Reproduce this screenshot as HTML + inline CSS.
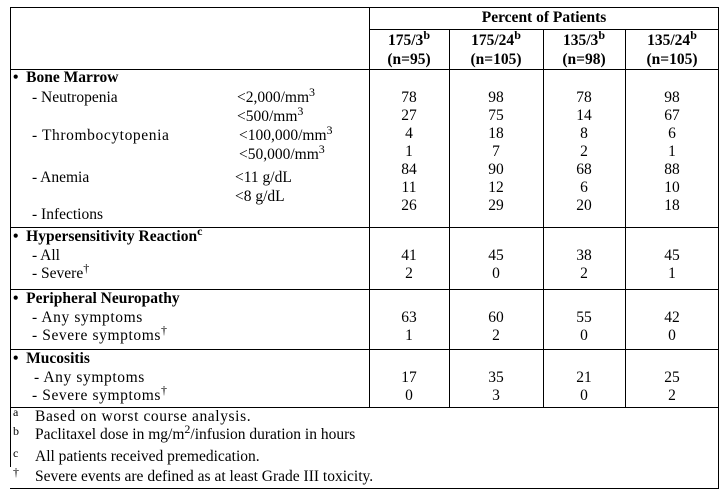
<!DOCTYPE html>
<html><head><meta charset="utf-8"><style>
body{margin:0;width:728px;height:496px;background:#fff;position:relative;font-family:"Liberation Serif",serif;font-size:15.5px;color:#000;overflow:hidden}
.l{position:absolute;background:#000}
.t{position:absolute;white-space:nowrap;line-height:18px}
.c{position:absolute;text-align:center;line-height:18px}
.w{letter-spacing:0.6px}
b{font-weight:bold}
sup{font-size:12px;line-height:0;vertical-align:6px}
</style></head><body>
<div class="l" style="left:10px;top:7px;width:709px;height:1px"></div>
<div class="l" style="left:10px;top:7px;width:1px;height:401px"></div>
<div class="l" style="left:718px;top:7px;width:1px;height:482px"></div>
<div class="l" style="left:369px;top:7px;width:1px;height:401px"></div>
<div class="l" style="left:449px;top:29px;width:1px;height:379px"></div>
<div class="l" style="left:543px;top:29px;width:1px;height:379px"></div>
<div class="l" style="left:625px;top:29px;width:1px;height:379px"></div>
<div class="l" style="left:369px;top:29px;width:350px;height:1px"></div>
<div class="l" style="left:10px;top:69px;width:709px;height:1px"></div>
<div class="l" style="left:10px;top:227px;width:709px;height:1px"></div>
<div class="l" style="left:10px;top:289px;width:709px;height:1px"></div>
<div class="l" style="left:10px;top:349px;width:709px;height:1px"></div>
<div class="l" style="left:10px;top:407px;width:709px;height:1px"></div>
<div class="l" style="left:10px;top:488px;width:709px;height:1px"></div>
<div class="l" style="left:10px;top:407px;width:1px;height:60px"></div>

<div class="c" style="left:369px;width:350px;top:9px"><b>Percent of Patients</b></div>
<div class="c" style="left:369px;width:80px;top:31px;line-height:19px"><b>175/3<sup>b</sup><br>(n=95)</b></div>
<div class="c" style="left:449px;width:94px;top:31px;line-height:19px"><b>175/24<sup>b</sup><br>(n=105)</b></div>
<div class="c" style="left:543px;width:82px;top:31px;line-height:19px"><b>135/3<sup>b</sup><br>(n=98)</b></div>
<div class="c" style="left:625px;width:94px;top:31px;line-height:19px"><b>135/24<sup>b</sup><br>(n=105)</b></div>

<div class="t" style="left:13px;top:69px"><b>•&nbsp;&nbsp;Bone Marrow</b></div>
<div class="t" style="left:32px;top:89px">- Neutropenia</div>
<div class="t" style="left:237px;top:89px">&lt;2,000/mm<sup>3</sup></div>
<div class="t" style="left:237px;top:108px">&lt;500/mm<sup>3</sup></div>
<div class="t w" style="left:32px;top:127px">- Thrombocytopenia</div>
<div class="t" style="left:239px;top:127px">&lt;100,000/mm<sup>3</sup></div>
<div class="t" style="left:239px;top:146px">&lt;50,000/mm<sup>3</sup></div>
<div class="t" style="left:32px;top:169px">- Anemia</div>
<div class="t" style="left:235px;top:169px">&lt;11 g/dL</div>
<div class="t" style="left:235px;top:188px">&lt;8 g/dL</div>
<div class="t" style="left:32px;top:206px">- Infections</div>

<div class="t" style="left:13px;top:228px"><b>•&nbsp;&nbsp;Hypersensitivity Reaction<sup>c</sup></b></div>
<div class="t" style="left:32px;top:247px">- All</div>
<div class="t" style="left:32px;top:265px">- Severe<sup>†</sup></div>
<div class="t" style="left:13px;top:290px"><b>•&nbsp;&nbsp;Peripheral Neuropathy</b></div>
<div class="t w" style="left:32px;top:309px">- Any symptoms</div>
<div class="t w" style="left:32px;top:327px">- Severe symptoms<sup>†</sup></div>
<div class="t" style="left:13px;top:350px"><b>•&nbsp;&nbsp;Mucositis</b></div>
<div class="t w" style="left:34px;top:369px">- Any symptoms</div>
<div class="t w" style="left:32px;top:387px">- Severe symptoms<sup>†</sup></div>

<div class="c" style="left:369px;width:80px;top:89px">78<br>27<br>4<br>1<br>84<br>11<br>26</div>
<div class="c" style="left:449px;width:94px;top:89px">98<br>75<br>18<br>7<br>90<br>12<br>29</div>
<div class="c" style="left:543px;width:82px;top:89px">78<br>14<br>8<br>2<br>68<br>6<br>20</div>
<div class="c" style="left:625px;width:94px;top:89px">98<br>67<br>6<br>1<br>88<br>10<br>18</div>

<div class="c" style="left:369px;width:80px;top:247px">41<br>2</div>
<div class="c" style="left:449px;width:94px;top:247px">45<br>0</div>
<div class="c" style="left:543px;width:82px;top:247px">38<br>2</div>
<div class="c" style="left:625px;width:94px;top:247px">45<br>1</div>

<div class="c" style="left:369px;width:80px;top:309px">63<br>1</div>
<div class="c" style="left:449px;width:94px;top:309px">60<br>2</div>
<div class="c" style="left:543px;width:82px;top:309px">55<br>0</div>
<div class="c" style="left:625px;width:94px;top:309px">42<br>0</div>

<div class="c" style="left:369px;width:80px;top:369px">17<br>0</div>
<div class="c" style="left:449px;width:94px;top:369px">35<br>3</div>
<div class="c" style="left:543px;width:82px;top:369px">21<br>0</div>
<div class="c" style="left:625px;width:94px;top:369px">25<br>2</div>

<div class="t" style="left:13px;top:403px;font-size:12px">a</div>
<div class="t w" style="left:35px;top:408px">Based on worst course analysis.</div>
<div class="t" style="left:13px;top:422px;font-size:12px">b</div>
<div class="t" style="left:35px;top:426px">Paclitaxel dose in mg/m<sup>2</sup>/infusion duration in hours</div>
<div class="t" style="left:13px;top:444px;font-size:12px">c</div>
<div class="t" style="left:35px;top:448px">All patients received premedication.</div>
<div class="t" style="left:13px;top:463px;font-size:12px">†</div>
<div class="t" style="left:35px;top:468px">Severe events are defined as at least Grade III toxicity.</div>
</body></html>
